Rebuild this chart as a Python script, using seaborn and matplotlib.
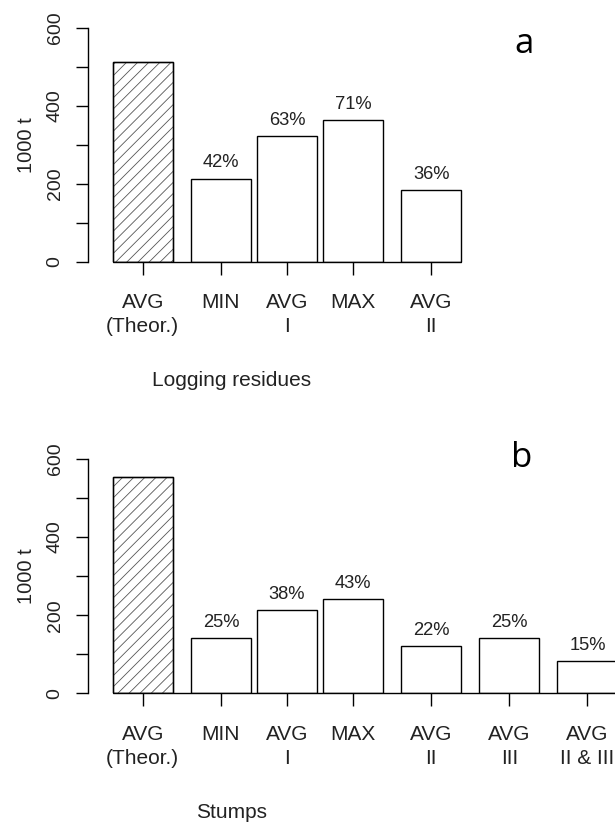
import numpy as np
import pandas as pd
import matplotlib
matplotlib.use('Agg')
import matplotlib.pyplot as plt
from matplotlib.patches import Rectangle
from matplotlib.ticker import MultipleLocator
import seaborn as sns

# a: logging residues, 1000 t
res_labels = ['AVG\n(Theor.)', 'MIN', 'AVG\nI', 'MAX', 'AVG\nII']
res_values = [512, 214, 322, 363, 184]
res_share = [42, 63, 71, 36]

# b: stumps, 1000 t
stu_labels = ['AVG\n(Theor.)', 'MIN', 'AVG\nI', 'MAX', 'AVG\nII', 'AVG\nIII', 'AVG\nII & III']
stu_values = [553, 141, 214, 242, 120, 141, 83]
stu_share = [25, 38, 43, 22, 25, 15]

# gap before each bar, in bar widths (like R barplot space=)
bar_space = [0.3, 0.3, 0.1, 0.1, 0.3, 0.3, 0.3]

sns.set_theme(style='white')
plt.rcParams['font.family'] = ['Liberation Sans', 'DejaVu Sans']
plt.rcParams['hatch.linewidth'] = 0.6
txt_col = '#222222'


def draw_panel(ax, labels, values, share, xlab, tag, tag_xy):
	n = len(values)
	lefts = np.cumsum(bar_space[:n]) + np.arange(n)
	centers = lefts + 0.5
	df = pd.DataFrame({'pos': centers, 'value': values})
	w = 1.0/np.diff(centers).min()
	sns.barplot(data=df, x='pos', y='value', native_scale=True, width=w,
		color='white', edgecolor='black', linewidth=1.0, errorbar=None, ax=ax)

	# theoretical bar: grey hatch, black outline on top
	p0 = ax.patches[0]
	p0.set_hatch('///')
	p0.set_edgecolor('#555555')
	ax.add_patch(Rectangle(p0.get_xy(), p0.get_width(), p0.get_height(),
		fill=False, edgecolor='black', lw=1.0, zorder=p0.get_zorder()+0.1))

	# percent of theoretical above each bar
	for c, v, s in zip(centers[1:], values[1:], share):
		ax.annotate(f'{s}%', (c, v), xytext=(0, 11.3), textcoords='offset points',
			ha='center', va='center', fontsize=13.2, color=txt_col)

	ax.plot([lefts[0], lefts[-1]+1], [0, 0], color='black', lw=1.0, clip_on=False)

	ax.set_xlim(-0.111, 9.24)
	ax.set_ylim(0, 600)
	for s in ['top', 'right', 'bottom']:
		ax.spines[s].set_visible(False)
	ax.spines['left'].set_color('black')
	ax.spines['left'].set_linewidth(1.0)

	ax.set_yticks([0, 200, 400, 600])
	ax.yaxis.set_minor_locator(MultipleLocator(100))
	ax.tick_params(axis='y', which='both', left=True, length=8.6, width=1.0,
		color='black', labelsize=14, labelcolor=txt_col, pad=9)
	for t in ax.get_yticklabels():
		t.set_rotation(90)
		t.set_va('center')

	ax.set_xticks(centers)
	ax.set_xticklabels(labels)
	ax.tick_params(axis='x', bottom=True, length=9, width=1.0, color='black',
		labelsize=15, labelcolor=txt_col, pad=13.5)
	for t in ax.get_xticklabels():
		t.set_linespacing(1.35)

	ax.set_xlabel('')
	ax.set_ylabel('1000 t', fontsize=14.5, color=txt_col)
	ax.yaxis.set_label_coords(-0.092, 0.5)
	ax.text(0.256, -119/234, xlab, transform=ax.transAxes, ha='center', va='center',
		fontsize=15, color=txt_col)

	fig.text(tag_xy[0]/615, 1 - tag_xy[1]/823, tag, ha='center', va='baseline',
		fontsize=25, family=['Open Sans', 'DejaVu Sans'], color='black')


fig = plt.figure(figsize=(6.15, 8.23), dpi=100)
ax_a = fig.add_axes([0.1431, 0.6817, 0.9138, 0.2843])
ax_b = fig.add_axes([0.1431, 0.1576, 0.9138, 0.2847])

draw_panel(ax_a, res_labels, res_values, res_share, 'Logging residues', 'a', (524, 53))
draw_panel(ax_b, stu_labels, stu_values, stu_share, 'Stumps', 'b', (522, 467))

fig.savefig('out.png', dpi=100, facecolor='white')
